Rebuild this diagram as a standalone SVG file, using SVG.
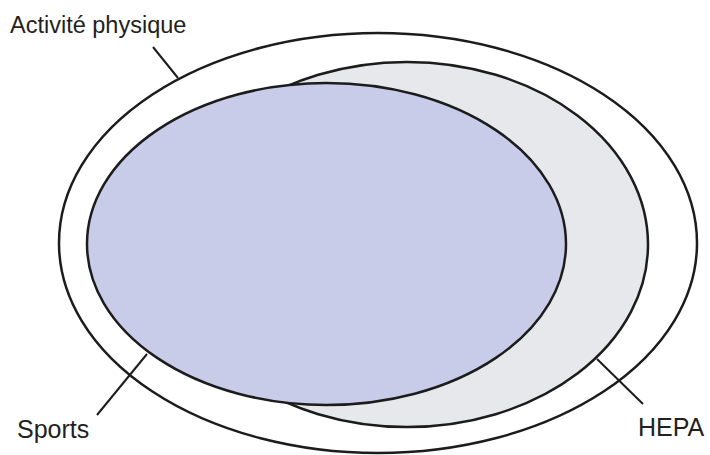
<svg xmlns="http://www.w3.org/2000/svg" width="710" height="455" viewBox="0 0 710 455">
<style>
.e{stroke:#1c1c1c;stroke-width:2.5}
.l{stroke:#1c1c1c;stroke-width:2;fill:none}
.t{font-family:"Liberation Sans",Arial,sans-serif;fill:#231f20}
</style>
<rect width="710" height="455" fill="#ffffff"/>
<g id="activite">
<ellipse class="e" cx="378" cy="243" rx="319" ry="210" fill="#ffffff"/>
</g>
<g id="hepa">
<ellipse class="e" cx="407" cy="244.5" rx="241" ry="182.5" fill="#e6e8ec"/>
</g>
<g id="sports">
<ellipse class="e" cx="326.5" cy="244" rx="239.5" ry="161" fill="#c9cce9"/>
</g>
<g id="connectors">
<line class="l" x1="153" y1="47" x2="178" y2="78"/>
<line class="l" x1="97" y1="415" x2="147" y2="354"/>
<line class="l" x1="597" y1="359" x2="643" y2="404"/>
</g>
<g id="labels">
<text class="t" x="10" y="33" font-size="23.5">Activité physique</text>
<text class="t" x="17" y="438" font-size="25">Sports</text>
<text class="t" x="638" y="436" font-size="25">HEPA</text>
</g>
</svg>
